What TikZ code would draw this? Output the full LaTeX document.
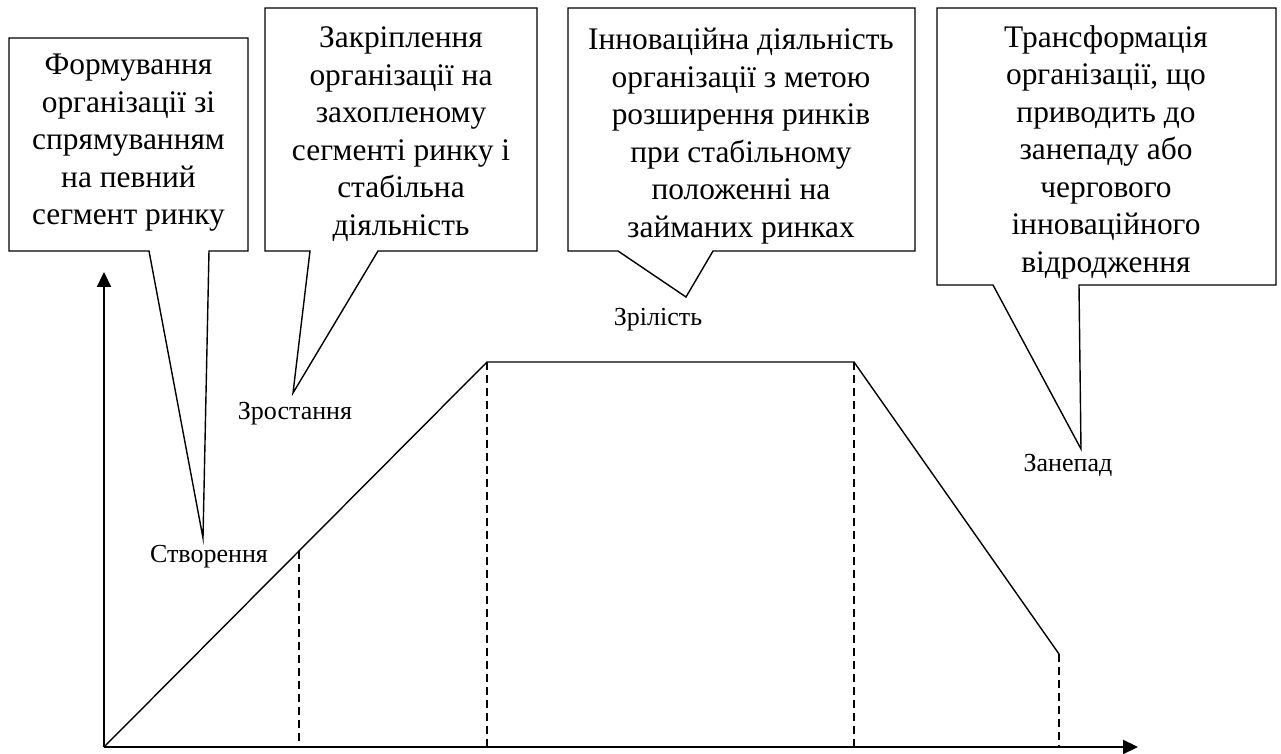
\documentclass[tikz,border=0pt]{standalone}
\usepackage{fontspec}
\setmainfont{Liberation Serif}
\usetikzlibrary{arrows.meta}
\begin{document}
\begin{tikzpicture}[x=0.5pt,y=-0.5pt,line join=miter]
        % Styles
        \tikzstyle{axes}=[line width=1.1pt]
        \tikzstyle{curve line}=[line width=0.7pt]
        \tikzstyle{stage border}=[line width=0.7pt,dash pattern=on 4pt off 2.5pt]
        \tikzstyle{callout}=[line width=0.7pt]
        \tikzstyle{callout text}=[align=center,inner sep=0pt,font=\fontsize{15.7}{18.75}\selectfont]
        \tikzstyle{stage}=[inner sep=0pt,font=\fontsize{13}{15}\selectfont]
        \useasboundingbox (0,0) rectangle (1281,754);
        %axes
        \coordinate (o) at (104,747);
        \coordinate (y axis) at (104,272);
        \coordinate (x axis) at (1138,747);
        \begin{scope}[style=axes,-{Triangle[length=7.5pt,width=7pt]}]
            \draw (o) -- (y axis);
            \draw (o) -- (x axis);
        \end{scope}
        %life cycle
        \coordinate (p0) at (299,551);
        \coordinate (p1) at (487,362);
        \coordinate (p2) at (854,362);
        \coordinate (p3) at (1059,654);
        \draw[curve line] (o) -- (p1) -- (p2) -- (p3);
        \foreach \p in {p0,p1,p2,p3}
            \draw[stage border] (\p) -- (\p |- o);
        %callouts
        \draw[callout] (9,38) -- (248,38) -- (248,251) -- (209,251) -- (203,538) -- (149,251) -- (9,251) -- cycle;
        \draw[callout] (265,8) -- (537,8) -- (537,251) -- (378,251) -- (293,393) -- (310,251) -- (265,251) -- cycle;
        \draw[callout] (568,8) -- (915,8) -- (915,251) -- (713,251) -- (686,297) -- (618,251) -- (568,251) -- cycle;
        \draw[callout] (937,8) -- (1276,8) -- (1276,285) -- (1079,285) -- (1081,449) -- (993,285) -- (937,285) -- cycle;
        \node[callout text] (creation text) at (128.5,143) {Формування\\організації зі\\спрямуванням\\на певний\\сегмент ринку};
        \node[callout text] (growth text) at (401,134) {Закріплення\\організації на\\захопленому\\сегменті ринку і\\стабільна\\діяльність};
        \node[callout text] (maturity text) at (741,136) {Інноваційна діяльність\\організації з метою\\розширення ринків\\при стабільному\\положенні на\\займаних ринках};
        \node[callout text] (decline text) at (1106,152) {Трансформація\\організації, що\\приводить до\\занепаду або\\чергового\\інноваційного\\відродження};
        %stages
        \node[stage] (creation) at (209,557) {Створення};
        \node[stage] (growth) at (295,414) {Зростання};
        \node[stage] (maturity) at (658,320) {Зрілість};
        \node[stage] (decline) at (1068,465) {Занепад};
\end{tikzpicture}
\end{document}
